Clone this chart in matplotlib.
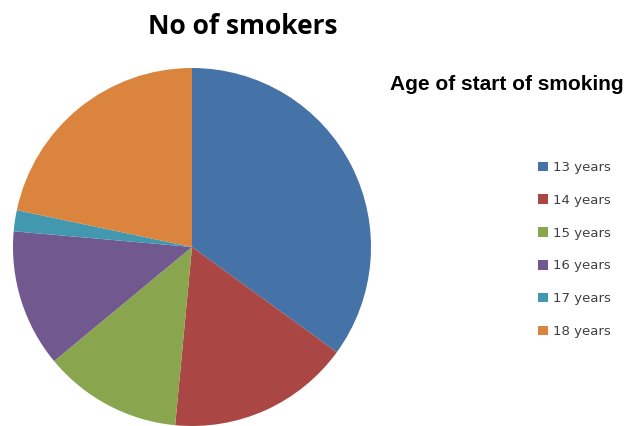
import matplotlib
matplotlib.use("Agg")
import matplotlib.pyplot as plt

# share of smokers by age at which they started
ages = ["13 years", "14 years", "15 years", "16 years", "17 years", "18 years"]
shares = [35.0, 16.5, 12.5, 12.4, 1.9, 21.7]
colors = ["#4572A7", "#AA4643", "#89A54E", "#71588F", "#4198AF", "#DB843D"]

fig = plt.figure(figsize=(6.26, 4.26), dpi=100)
ax = fig.add_axes([13 / 626, 0.0, 358 / 626, 358 / 426])

wedges, _ = ax.pie(shares, colors=colors, startangle=90, counterclock=False,
                   radius=1.0, wedgeprops=dict(linewidth=0))
ax.set_xlim(-1, 1)
ax.set_ylim(-1, 1)
ax.set_aspect("equal")

fig.text(243 / 626, 1 - 26 / 426, "No of smokers", ha="center", va="center",
         fontsize=19, fontweight="bold", family="Open Sans")
fig.text(390 / 626, 1 - 85 / 426, "Age of start of smoking", ha="left", va="center",
         fontsize=15, fontweight="bold", family="Liberation Sans")

leg = fig.legend(wedges, ages, loc="upper left",
                 bbox_to_anchor=(538 / 626, 1 - 161 / 426),
                 frameon=False, fontsize=9.5, labelspacing=1.5,
                 handlelength=0.75, handleheight=0.75, handletextpad=0.4,
                 borderaxespad=0, borderpad=0)
for t in leg.get_texts():
    t.set_color("#404040")

fig.savefig("out.png", dpi=100)
